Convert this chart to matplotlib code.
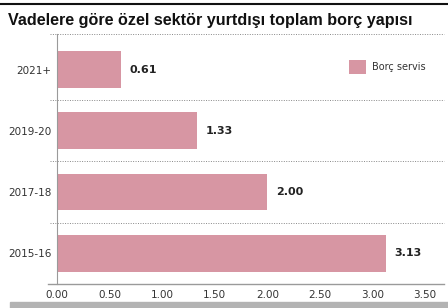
import matplotlib.pyplot as plt
from matplotlib.lines import Line2D
from matplotlib.patches import Rectangle

# Vadelere göre özel sektör yurtdışı toplam borç yapısı
periods = ['2015-16', '2017-18', '2019-20', '2021+']
values = [3.13, 2.00, 1.33, 0.61]
xticks = [0, 0.5, 1.0, 1.5, 2.0, 2.5, 3.0, 3.5]

bar_color = '#d796a3'
grey = '#9a9a9a'

fig = plt.figure(figsize=(4.48, 3.08), dpi=100)
ax = fig.add_axes([57 / 448, 24 / 308, 387 / 448, 250 / 308])

pos = range(len(periods))
ax.barh(pos, values, height=0.6, color=bar_color, label='Borç servis', zorder=2)

for p, v in zip(pos, values):
    ax.annotate(f'{v:.2f}', (v, p), xytext=(6, 0), textcoords='offset points',
                va='center', ha='left', fontsize=8, fontweight='bold', color='#222222')

ax.set_xlim(0, 3.68)
ax.set_ylim(-0.5, 3.58)
ax.set_yticks(list(pos))
ax.set_yticklabels(periods, fontsize=7.5, color='#333333')
ax.set_xticks(xticks)
ax.set_xticklabels([f'{t:.2f}' for t in xticks], fontsize=7.5, color='#333333')
ax.tick_params(length=0, pad=4)

for s in ['top', 'right']:
    ax.spines[s].set_visible(False)
ax.spines['left'].set_color(grey)
ax.spines['bottom'].set_visible(False)

# dotted separators between categories
for y in [0.5, 1.5, 2.5, 3.58]:
    ax.axhline(y, xmin=-7 / 387, xmax=1.0, color='#888888', lw=0.7, ls=(0, (1, 1.5)),
               clip_on=False, zorder=1)
ax.axhline(-0.5, xmin=-9 / 387, xmax=1.0, color=grey, lw=1.0, clip_on=False)

leg = ax.legend(loc='upper right', bbox_to_anchor=(0.975, 0.93), frameon=False,
                fontsize=7, handlelength=1.8, handleheight=1.8, handletextpad=0.6)
for t in leg.get_texts():
    t.set_color('#333333')

fig.text(8 / 448, 1 - 20 / 308, 'Vadelere göre özel sektör yurtdışı toplam borç yapısı',
         fontsize=11.6, fontweight='bold', va='center', ha='left', color='#111111',
         family='Liberation Sans')

fig.add_artist(Line2D([0, 1], [1 - 4 / 308, 1 - 4 / 308], color='#111111', lw=1.5,
                      transform=fig.transFigure))
fig.add_artist(Rectangle((10 / 448, 0), 438 / 448, 6 / 308, color='#b3b3b3',
                         transform=fig.transFigure))

fig.savefig('out.png', dpi=100)
